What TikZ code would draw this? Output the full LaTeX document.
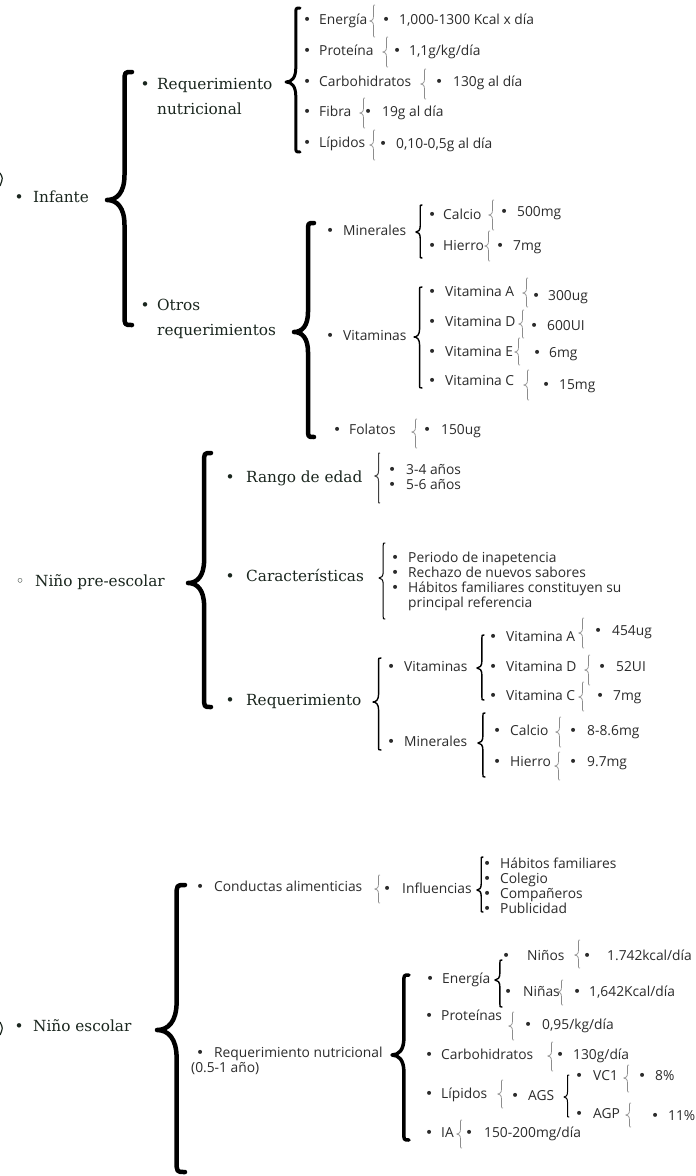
\documentclass[tikz,border=0pt]{standalone}
\usepackage{fontspec}
\setmainfont{DejaVu Serif}
\setsansfont{Open Sans}
\newfontfamily\symfont{DejaVu Sans}
\usepackage{tikz}
\definecolor{serifcol}{HTML}{1A261E}
\definecolor{sanscol}{HTML}{2B2B2B}
\definecolor{graycol}{HTML}{8C8C8C}
\newcommand\bu[1][12pt]{\makebox[0pt]{\symfont\textbullet}\hspace{#1}}
\newcommand\hbu[1][15pt]{\makebox[0pt]{\symfont ◦}\hspace{#1}}
\newcommand\curly[6][]{%
  \draw[#1] (#2,#3)
    .. controls ({#2-0.3*#6},#3) .. ({#2-0.3*#6},{#3+0.4*#6})
    -- ({#2-0.3*#6},{#4-#6})
    .. controls ({#2-0.3*#6},{#4-0.3*#6}) and ({#2-0.6*#6},#4) .. ({#2-#6},#4)
    .. controls ({#2-0.6*#6},#4) and ({#2-0.3*#6},{#4+0.3*#6}) .. ({#2-0.3*#6},{#4+#6})
    -- ({#2-0.3*#6},{#5-0.4*#6})
    .. controls ({#2-0.3*#6},#5) .. (#2,#5);}
\tikzstyle{topic} = [font=\fontsize{15.3}{25}\selectfont, text=serifcol, anchor=west, inner sep=0pt, text height=10.5pt, text depth=3pt]
\tikzstyle{topic2} = [font=\fontsize{15.3}{25}\selectfont, text=serifcol, anchor=west, inner sep=0pt, align=left]
\tikzstyle{entry} = [font=\sffamily\fontsize{13.8}{15}\selectfont, text=sanscol, anchor=west, inner sep=0pt, text height=10pt, text depth=3pt]
\tikzstyle{entries} = [font=\sffamily\fontsize{13.8}{15}\selectfont, text=sanscol, anchor=west, inner sep=0pt, align=left]
\tikzstyle{bracebig} = [line width=4.5pt, line cap=round, line join=round]
\tikzstyle{bracemid} = [line width=3pt, line cap=round, line join=round]
\tikzstyle{bracesmall} = [line width=1.4pt, line cap=round, line join=round]
\tikzstyle{bracegray} = [line width=0.7pt, draw=graycol]

\begin{document}
\begin{tikzpicture}[x=1pt, y=-1pt]

\fill[white] (0,0) rectangle (696,1176);
\useasboundingbox (0,0) rectangle (696,1176);

\draw[line width=1.2pt, serifcol] (0,173) .. controls (3,178) .. (0,186);
\draw[line width=1.2pt, serifcol] (0,1022) .. controls (3,1028) .. (0,1035);

% Infante
\node (infante) [topic] at (19,199) {\bu[14pt]Infante};
\curly[bracebig]{132}{72}{200}{325}{25}
\node (reqnut) [topic2] at (145,96) {\bu Requerimiento\\\hspace{12pt}nutricional};
\node (otros) [topic2] at (145,319) {\bu Otros\\\hspace{12pt}requerimientos};

\curly[bracemid]{300}{8}{82}{152}{14}
\node (energia) [entry] at (307,21) {\bu Energía};
\node (proteina) [entry] at (307,52) {\bu Proteína};
\node (carbo) [entry] at (307,83) {\bu Carbohidratos};
\node (fibra) [entry] at (307,113) {\bu Fibra};
\node (lipidos) [entry] at (307,144) {\bu Lípidos};
\curly[bracegray]{375}{5}{21}{37}{5}
\curly[bracegray]{388}{37}{52}{67}{5}
\curly[bracegray]{426}{69}{84}{99}{5}
\curly[bracegray]{365}{98}{113}{128}{5}
\curly[bracegray]{375}{130}{145}{160}{5}
\node (energiav) [entry] at (386,21) {\bu[13pt]1,000-1300 Kcal x día};
\node (proteinav) [entry] at (397,52) {\bu 1,1g/kg/día};
\node (carbov) [entry] at (439,83) {\bu[14pt]130g al día};
\node (fibrav) [entry] at (368,113) {\bu[14pt]19g al día};
\node (lipidosv) [entry] at (383,145) {\bu[13pt]0,10-0,5g al día};

\curly[bracebig]{314}{223}{332}{437}{20}
\node (minerales) [entry] at (330,232) {\bu[13pt]Minerales};
\node (vitaminas) [entry] at (330,337) {\bu[13pt]Vitaminas};
\node (folatos) [entry] at (337,431) {\bu Folatos};

\curly[bracesmall]{422}{205}{232}{258}{6}
\node (calcio) [entry] at (432,216) {\bu[11pt]Calcio};
\node (hierro) [entry] at (432,247) {\bu[11pt]Hierro};
\curly[bracegray]{494}{200}{215}{230}{5}
\curly[bracegray]{490}{231}{246}{261}{5}
\node (calciov) [entry] at (504,213) {\bu[13pt]500mg};
\node (hierrov) [entry] at (500,247) {\bu[13pt]7mg};

\curly[bracesmall]{422}{287}{337}{388}{8}
\node (vita) [entry] at (432,293) {\bu[13pt]Vitamina A};
\node (vitd) [entry] at (432,323) {\bu[13pt]Vitamina D};
\node (vite) [entry] at (432,353) {\bu[13pt]Vitamina E};
\node (vitc) [entry] at (432,382) {\bu[13pt]Vitamina C};
\curly[bracegray]{528}{278}{293}{307}{5}
\curly[bracegray]{524}{310}{324}{338}{5}
\curly[bracegray]{520}{338}{352}{365}{5}
\curly[bracegray]{529}{370}{385}{400}{5}
\node (vitav) [entry] at (536,297) {\bu 300ug};
\node (vitdv) [entry] at (534,327) {\bu[13pt]600UI};
\node (vitev) [entry] at (537,354) {\bu 6mg};
\node (vitcv) [entry] at (546,386) {\bu[13pt]15mg};

\curly[bracegray]{417}{419}{432}{448}{5}
\node (folatosv) [entry] at (427,431) {\bu[14pt]150ug};

% Nino pre-escolar
\node (preescolar) [topic] at (20,583) {\hbu Niño pre-escolar};
\curly[bracebig]{211}{453}{583}{707}{23}
\node (rango) [topic] at (230,479) {\bu[16pt]Rango de edad};
\node (caract) [topic] at (230,578) {\bu[16pt]Características};
\node (reqpre) [topic] at (230,702) {\bu[16pt]Requerimiento};

\curly[bracegray, line width=1pt, draw=darkgray]{380}{453}{476}{503}{5}
\node (edades) [entries] at (392,477) {\bu[14pt]3-4 años\\\bu[14pt]5-6 años};
\curly[bracesmall, line width=1pt]{385}{543}{578}{619}{6}
\node (rasgos) [entries] at (395,581) {\bu[13pt]Periodo de inapetencia\\\bu[13pt]Rechazo de nuevos sabores\\\bu[13pt]Hábitos familiares constituyen su\\\hspace{13pt}principal referencia};

\curly[bracesmall]{381}{658}{702}{750}{8}
\node (vit2) [entry] at (391,668) {\bu[13pt]Vitaminas};
\node (min2) [entry] at (391,743) {\bu[13pt]Minerales};
\curly[bracesmall]{484}{635}{668}{700}{7}
\node (vita2) [entry] at (493,638) {\bu[13pt]Vitamina A};
\node (vitd2) [entry] at (493,668) {\bu[13pt]Vitamina D};
\node (vitc2) [entry] at (493,697) {\bu[13pt]Vitamina C};
\curly[bracegray]{584}{618}{633}{648}{5}
\curly[bracegray]{590}{655}{670}{685}{5}
\curly[bracegray]{584}{682}{697}{711}{5}
\node (vita2v) [entry] at (598,632) {\bu[14pt]454ug};
\node (vitd2v) [entry] at (602,668) {\bu[14pt]52UI};
\node (vitc2v) [entry] at (600,697) {\bu[13pt]7mg};
\curly[bracesmall]{485}{713}{743}{777}{7}
\node (calcio2) [entry] at (497,732) {\bu[13pt]Calcio};
\node (hierro2) [entry] at (497,763) {\bu[13pt]Hierro};
\curly[bracegray]{561}{717}{732}{747}{5}
\curly[bracegray]{560}{752}{766}{780}{5}
\node (calcio2v) [entry] at (573,732) {\bu[14pt]8-8.6mg};
\node (hierro2v) [entry] at (573,763) {\bu[14pt]9.7mg};

% Nino escolar
\node (escolar) [topic] at (19,1028) {\bu[14pt]Niño escolar};
\curly[bracebig]{185}{885}{1030}{1172}{28}
\node (conductas) [entry] at (200,888) {\bu[14pt]Conductas alimenticias};
\curly[bracegray]{380}{875}{889}{903}{5}
\node (influencias) [entry] at (387,890) {\bu[15pt]Influencias};
\curly[bracesmall]{483}{857}{890}{912}{6}
\node (influlist) [entries] at (487,886) {\bu[13pt]Hábitos familiares\\\bu[13pt]Colegio\\\bu[13pt]Compañeros\\\bu[13pt]Publicidad};

\node (reqesc) [entries] at (191,1061) {\hspace{9pt}\bu[14pt]Requerimiento nutricional\\(0.5-1 año)};
\curly[bracemid, line width=3.5pt]{409}{975}{1055}{1140}{17}
\node (energia3) [entry] at (430,980) {\bu Energía};
\node (proteinas3) [entry] at (429,1017) {\bu Proteínas};
\node (carbo3) [entry] at (429,1056) {\bu Carbohidratos};
\node (lipidos3) [entry] at (429,1095) {\bu Lípidos};
\node (ia3) [entry] at (429,1134) {\bu IA};

\curly[bracesmall]{502}{960}{980}{1007}{7}
\node (ninos) [entry] at (506,957) {\bu[21pt]Niños};
\node (ninas) [entry] at (508,993) {\bu[15pt]Niñas};
\curly[bracegray]{580}{940}{955}{968}{5}
\curly[bracegray]{563}{980}{992}{1005}{5}
\node (ninosv) [entry] at (587,957) {\bu[20pt]1.742kcal/día};
\node (ninasv) [entry] at (577,993) {\bu 1,642Kcal/día};

\curly[bracegray]{514}{1012}{1026}{1040}{5}
\node (proteinas3v) [entry] at (528,1026) {\bu[14pt]0,95/kg/día};
\curly[bracegray]{553}{1042}{1056}{1071}{5}
\node (carbo3v) [entry] at (560,1056) {\bu[13pt]130g/día};
\curly[bracegray]{503}{1080}{1094}{1108}{5}
\node (ags) [entry] at (515,1097) {\bu[13pt]AGS};
\curly[bracesmall, line width=1pt]{569}{1075}{1097}{1117}{5}
\node (vc1) [entry] at (579,1077) {\bu[14pt]VC1};
\node (agp) [entry] at (579,1115) {\bu[14pt]AGP};
\curly[bracegray]{629}{1065}{1078}{1092}{5}
\curly[bracegray]{631}{1103}{1115}{1127}{5}
\node (vc1v) [entry] at (642,1077) {\bu[13pt]8\%};
\node (agpv) [entry] at (655,1117) {\bu[13pt]11\%};
\curly[bracegray]{462}{1120}{1134}{1148}{5}
\node (iav) [entry] at (469,1134) {\bu[15pt]150-200mg/día};

\end{tikzpicture}
\end{document}
